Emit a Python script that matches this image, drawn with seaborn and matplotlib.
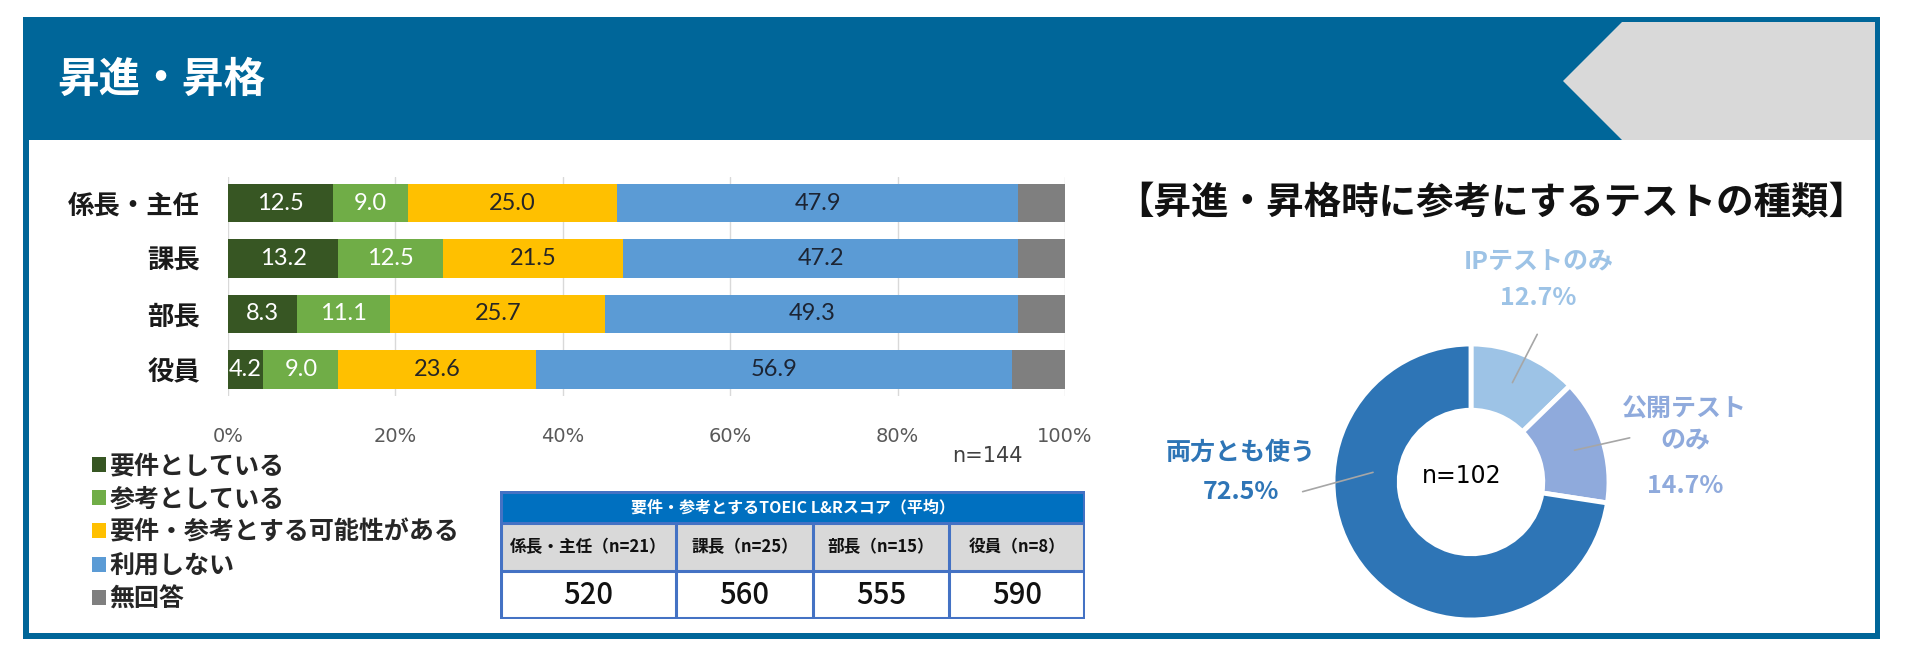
import numpy as np
import pandas as pd
import matplotlib
matplotlib.use("Agg")
import matplotlib.pyplot as plt
from matplotlib.patches import Rectangle, Polygon, Patch
import seaborn as sns

# ---------------- data ----------------
categories = ["係長・主任", "課長", "部長", "役員"]
series_names = ["要件としている", "参考としている", "要件・参考とする可能性がある", "利用しない", "無回答"]
v_required = [12.5, 13.2, 8.3, 4.2]
v_reference = [9.0, 12.5, 11.1, 9.0]
v_possible = [25.0, 21.5, 25.7, 23.6]
v_notused = [47.9, 47.2, 49.3, 56.9]
v_noanswer = [5.6, 5.6, 5.6, 6.3]
x_ticks = [0, 20, 40, 60, 80, 100]
x_ticklabels = ["0%", "20%", "40%", "60%", "80%", "100%"]
bar_n_label = "n=144"

table_title = "要件・参考とするTOEIC L&Rスコア（平均）"
table_heads = ["係長・主任（n=21）", "課長（n=25）", "部長（n=15）", "役員（n=8）"]
table_scores = [520, 560, 555, 590]

donut_labels = ["IPテストのみ", "公開テスト\nのみ", "両方とも使う"]
donut_values = [12.7, 14.7, 72.5]
donut_n_label = "n=102"

page_title = "昇進・昇格"
donut_title = "【昇進・昇格時に参考にするテストの種類】"

# ---------------- style ----------------
sns.set_theme(style="white")
plt.rcParams["font.family"] = ["Noto Sans CJK JP", "DejaVu Sans"]

bar_colors = ["#375623", "#70AD47", "#FFC000", "#5B9BD5", "#7F7F7F"]
label_colors = ["white", "white", "#262626", "#1c2433", None]
donut_colors = ["#9DC3E6", "#8FAADC", "#2E75B6"]
frame_blue = "#006699"

W, H = 1906, 660
fig = plt.figure(figsize=(W / 100, H / 100), dpi=100)
fig.patch.set_facecolor("white")


def box(x0, y0, x1, y1):
    return [x0 / W, 1 - y1 / H, (x1 - x0) / W, (y1 - y0) / H]


# ---------------- background frame ----------------
bg = fig.add_axes([0, 0, 1, 1])
bg.set_xlim(0, W)
bg.set_ylim(H, 0)
bg.axis("off")
bg.add_patch(Rectangle((23, 17), 1857, 622, facecolor=frame_blue, edgecolor="none"))
bg.add_patch(Rectangle((29, 140), 1846, 493, facecolor="white", edgecolor="none"))
bg.add_patch(Polygon([(1563, 81), (1622, 22), (1875, 22), (1875, 140), (1622, 140)],
                     closed=True, facecolor="#D9D9D9", edgecolor="none"))
bg.text(57, 80, page_title, color="white", fontsize=30, fontweight="bold",
        va="center", ha="left")

# ---------------- stacked bar chart ----------------
ax = fig.add_axes(box(228, 177, 1065, 396))
df = pd.DataFrame({
    "category": categories,
    series_names[0]: v_required,
    series_names[1]: v_reference,
    series_names[2]: v_possible,
    series_names[3]: v_notused,
    series_names[4]: v_noanswer,
})
cum = df[series_names].cumsum(axis=1)
for i in reversed(range(len(series_names))):
    sns.barplot(x=cum[series_names[i]], y=df["category"], orient="h",
                color=bar_colors[i], width=0.7, ax=ax, saturation=1, linewidth=0)

for i, name in enumerate(series_names):
    if label_colors[i] is None:
        continue
    for j in range(len(categories)):
        val = df.loc[j, name]
        left = cum.loc[j, name] - val
        ax.text(left + val / 2, j, f"{val:.1f}", ha="center", va="center",
                fontsize=17, color=label_colors[i], family=["Lato", "DejaVu Sans"])

ax.set_xlim(0, 100)
ax.set_ylim(3.48, -0.47)
ax.set_xticks(x_ticks)
ax.set_xticklabels(x_ticklabels, fontsize=14, color="#595959", family=["DejaVu Sans"])
ax.set_xlabel("")
ax.set_ylabel("")
ax.tick_params(axis="x", length=0, pad=22)
ax.tick_params(axis="y", length=0, pad=20)
for lab in ax.get_yticklabels():
    lab.set_fontsize(19)
    lab.set_fontweight("bold")
    lab.set_color("#1a1a1a")
ax.grid(axis="x", color="#D9D9D9", linewidth=1)
ax.grid(axis="y", visible=False)
ax.set_axisbelow(True)
for s in ax.spines.values():
    s.set_visible(False)
ax.patch.set_alpha(0)

fig.text(987 / W, 1 - 456 / H, bar_n_label, fontsize=15, color="#404040",
         ha="center", va="center", family=["DejaVu Sans"])

handles = [Patch(facecolor=c, edgecolor="none") for c in bar_colors]
leg = fig.legend(handles, series_names, loc="upper left",
                 bbox_to_anchor=(92 / W, 1 - 454 / H), frameon=False,
                 prop={"size": 18, "weight": "bold"},
                 handlelength=0.55, handleheight=0.55, handletextpad=0.15,
                 labelspacing=0.37, borderpad=0, borderaxespad=0)

# ---------------- score table ----------------
tx0, tx1, ty0, ty1 = 500, 1085, 491, 619
tab = fig.add_axes(box(tx0, ty0, tx1, ty1))
tab.set_xlim(tx0, tx1)
tab.set_ylim(ty1, ty0)
tab.axis("off")
col_x = [500, 676, 813, 949, 1085]
r1, r2 = 523, 571
border = "#4472C4"
tab.add_patch(Rectangle((tx0, ty0), tx1 - tx0, r1 - ty0, facecolor="#0070C0", edgecolor="none"))
tab.add_patch(Rectangle((tx0, r1), tx1 - tx0, r2 - r1, facecolor="#D9D9D9", edgecolor="none"))
tab.add_patch(Rectangle((tx0, r2), tx1 - tx0, ty1 - r2, facecolor="white", edgecolor="none"))
tab.text((tx0 + tx1) / 2, (ty0 + r1) / 2, table_title, color="white", fontsize=11.5,
         fontweight="bold", ha="center", va="center")
for k in range(4):
    cx = (col_x[k] + col_x[k + 1]) / 2
    tab.text(cx, (r1 + r2) / 2, table_heads[k], fontsize=12, fontweight="bold",
             ha="center", va="center", color="#111111")
    tab.text(cx, (r2 + ty1) / 2, str(table_scores[k]), fontsize=21, fontweight="medium",
             ha="center", va="center", color="#111111")
for xx in col_x[1:-1]:
    tab.plot([xx, xx], [r1, ty1], color=border, lw=2.2, solid_capstyle="butt")
for yy in [r1, r2]:
    tab.plot([tx0, tx1], [yy, yy], color=border, lw=2.2, solid_capstyle="butt")
tab.add_patch(Rectangle((tx0 + 1, ty0 + 1), tx1 - tx0 - 2, ty1 - ty0 - 2,
                        facecolor="none", edgecolor=border, lw=2.2))

# ---------------- donut ----------------
fig.text(1116 / W, 1 - 203 / H, donut_title, fontsize=27, fontweight="bold",
         ha="left", va="center", color="#111111")

cxp, cyp, R = 1471, 482, 138
dax = fig.add_axes(box(cxp - R, cyp - R, cxp + R, cyp + R))
wedges, _ = dax.pie(donut_values, colors=donut_colors, startangle=90, counterclock=False,
                    radius=1, wedgeprops=dict(width=0.48, edgecolor="white", linewidth=3.5))
dax.set_xlim(-1, 1)
dax.set_ylim(-1, 1)
dax.set_aspect("equal")
dax.axis("off")
dax.text(-0.07, 0.04, donut_n_label, fontsize=17, ha="center", va="center",
         color="black", family=["DejaVu Sans"])

# label positions (name / percent) and leader lines, in donut data units
name_pos = [(0.49, 1.59), (1.55, 0.41), (-1.67, 0.21)]
pct_pos = [(0.49, 1.33), (1.55, -0.03), (-1.67, -0.07)]
lead_from = [(0.48, 1.07), (1.15, 0.32), (-1.22, -0.07)]
lead_to = [(0.30, 0.72), (0.75, 0.23), (-0.71, 0.07)]
for i in range(3):
    dax.text(*name_pos[i], donut_labels[i], color=donut_colors[i], fontsize=18,
             fontweight="bold", ha="center", va="center", clip_on=False, linespacing=1.35)
    dax.text(*pct_pos[i], f"{donut_values[i]:.1f}%", color=donut_colors[i], fontsize=18,
             fontweight="bold", ha="center", va="center", clip_on=False)
    dax.annotate("", xy=lead_to[i], xytext=lead_from[i],
                 arrowprops=dict(arrowstyle="-", color="#A6A6A6", lw=1.2,
                                 shrinkA=0, shrinkB=0), annotation_clip=False)

fig.savefig("out.png", dpi=100)
